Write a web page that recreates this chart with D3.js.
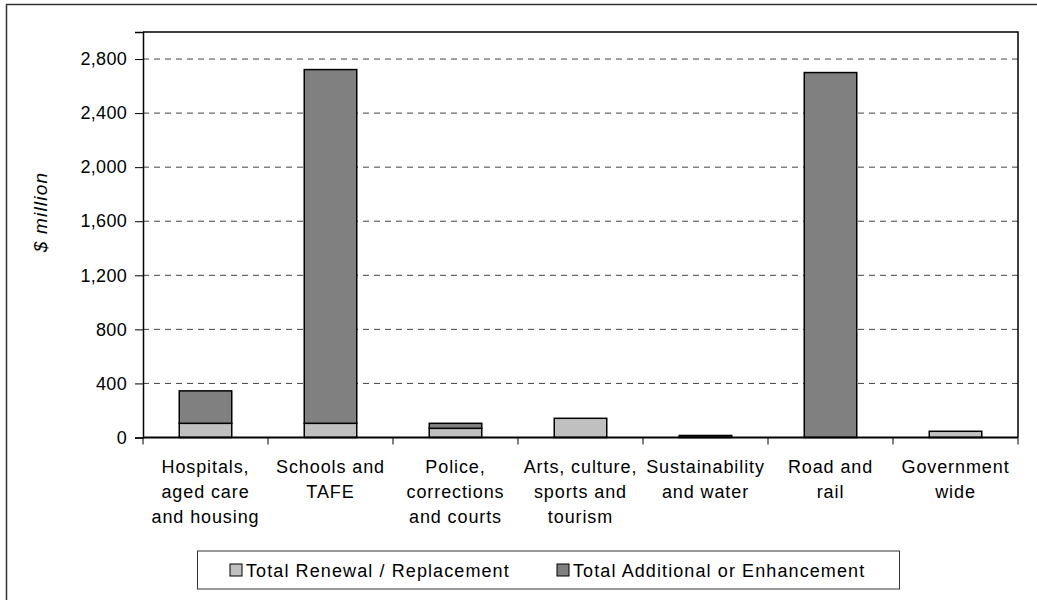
<!DOCTYPE html>
<html><head><meta charset="utf-8">
<script src="https://cdn.jsdelivr.net/npm/d3@7"></script>
<style>
body{margin:0;background:#fff;}
text{font-family:Arial,"Liberation Sans",sans-serif;fill:#000;}
</style></head>
<body><svg id="c" width="1037" height="600"></svg>
<script>
const categories = [
  ["Hospitals,","aged care","and housing"],
  ["Schools and","TAFE"],
  ["Police,","corrections","and courts"],
  ["Arts, culture,","sports and","tourism"],
  ["Sustainability","and water"],
  ["Road and","rail"],
  ["Government","wide"]
];
const renewal = [105, 105, 68, 142, 2, 0, 46];
const additional = [240, 2617, 37, 0, 13, 2700, 0];
const yTicks = [0, 400, 800, 1200, 1600, 2000, 2400, 2800];
const seriesNames = ["Total Renewal / Replacement", "Total Additional or Enhancement"];
const colors = ["#C0C0C0", "#808080"];

const svg = d3.select("#c");
const L = 143, R = 1018, T = 32, B = 437.5;

svg.append("rect").attr("x",6.5).attr("y",4.5).attr("width",1040).attr("height",620)
  .attr("fill","none").attr("stroke","#333").attr("stroke-width",1.5);

const x = d3.scaleBand().domain(d3.range(categories.length)).range([L,R]).paddingInner(0).paddingOuter(0);
const y = d3.scaleLinear().domain([0,3000]).range([B,T]);

// gridlines
svg.append("g").selectAll("line").data(yTicks.filter(d=>d>0)).join("line")
  .attr("x1",L).attr("x2",R).attr("y1",d=>y(d)).attr("y2",d=>y(d))
  .attr("stroke","#444").attr("stroke-width",1).attr("stroke-dasharray","6,5");

// plot border top/right
svg.append("path").attr("d",`M${L},${T}H${R}V${B}`).attr("fill","none").attr("stroke","#000").attr("stroke-width",1.5);

// y axis
const yAxis = svg.append("g").attr("transform",`translate(${L},0)`)
  .call(d3.axisLeft(y).tickValues(yTicks).tickFormat(d3.format(",")).tickSize(8).tickPadding(8));
yAxis.select(".domain").attr("stroke","#000").attr("stroke-width",1.5);
yAxis.selectAll(".tick line").attr("stroke","#000");
yAxis.selectAll(".tick text").attr("font-size",18).attr("letter-spacing","0.3px").attr("font-family","Arial, 'Liberation Sans', sans-serif");

// bars
const stacked = d3.stack().keys([0,1]).value((d,k)=> k===0 ? renewal[d] : additional[d])(d3.range(categories.length));
const bw = x.bandwidth()*0.42;
stacked.forEach((s,si)=>{
  svg.append("g").selectAll("rect").data(s.filter(d=>d[1]-d[0]>0)).join("rect")
    .attr("x",d=>x(d.data)+(x.bandwidth()-bw)/2).attr("width",bw)
    .attr("y",d=>y(d[1])).attr("height",d=>y(d[0])-y(d[1]))
    .attr("fill",colors[si]).attr("stroke","#000").attr("stroke-width",1.5);
});

// x axis
const xb = svg.append("g");
xb.append("line").attr("x1",L).attr("x2",R).attr("y1",B).attr("y2",B).attr("stroke","#000").attr("stroke-width",2);
xb.selectAll("line.t").data(d3.range(categories.length+1)).join("line").attr("class","t")
  .attr("x1",i=>L+i*x.step()).attr("x2",i=>L+i*x.step()).attr("y1",B).attr("y2",B+7)
  .attr("stroke","#000").attr("stroke-width",1);
const lab = xb.selectAll("text").data(categories).join("text")
  .attr("text-anchor","middle").attr("font-size",18).attr("letter-spacing","0.9px")
  .attr("transform",(d,i)=>`translate(${x(i)+x.bandwidth()/2},0)`);
lab.selectAll("tspan").data(d=>d).join("tspan").attr("x",0).attr("y",(d,j)=>473+j*25).text(d=>d);

// y label
svg.append("text").attr("transform","translate(47,212) rotate(-90)").attr("text-anchor","middle")
  .attr("font-size",19).attr("letter-spacing","1.2px").attr("font-style","italic").text("$ million");

// legend
const lg = svg.append("g");
lg.append("rect").attr("x",197.5).attr("y",551).attr("width",702).attr("height",38)
  .attr("fill","#fff").attr("stroke","#333").attr("stroke-width",1);
const lx = [230, 557];
seriesNames.forEach((n,i)=>{
  lg.append("rect").attr("x",lx[i]).attr("y",564).attr("width",12).attr("height",12)
    .attr("fill",colors[i]).attr("stroke","#000").attr("stroke-width",1);
  lg.append("text").attr("x",lx[i]+16).attr("y",577).attr("font-size",18).attr("letter-spacing","1.1px").text(n);
});
</script></body></html>
